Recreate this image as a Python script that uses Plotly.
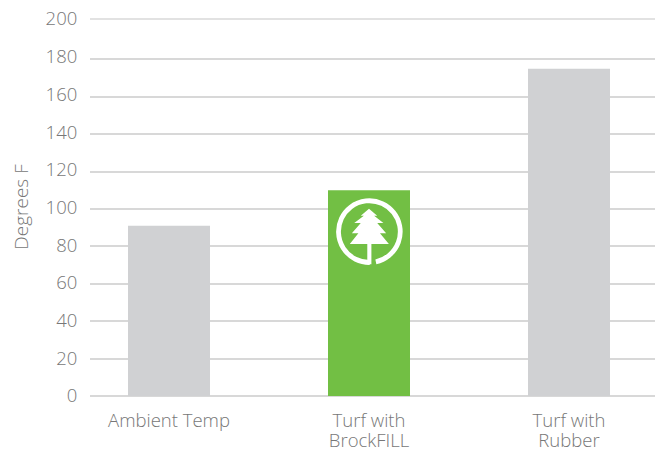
import base64
import plotly.graph_objects as go

categories = ["Ambient Temp", "Turf with<br>BrockFILL", "Turf with<br>Rubber"]
values = [91, 110, 175]
bar_colors = ["#d0d1d3", "#72bf44", "#d0d1d3"]
y_ticks = list(range(0, 201, 20))
grid_ticks = y_ticks[:-1]

TEXT = "#777777"
GRID = "#d8d8d8"
FONT = "'Open Sans', Lato, sans-serif"

svg = """<svg xmlns="http://www.w3.org/2000/svg" viewBox="0 0 210 210" width="210" height="210">
<g transform="translate(-43,-50)" fill="#ffffff">
<path d="M148,88 L172,109 L163,109 L190,130 L172,130 L198,160 L180,160 L206,191 L155,191 L155,250 L143,250 L143,191 L92,191 L117,160 L98,160 L124,130 L105,130 L133,109 L124,109 Z"/>
<path d="M168,243 A90,90 0 1 0 150,245" fill="none" stroke="#ffffff" stroke-width="14"/>
</g></svg>"""
logo = "data:image/svg+xml;base64," + base64.b64encode(svg.encode()).decode()

fig = go.Figure()
fig.add_trace(go.Bar(x=categories, y=values, marker=dict(color=bar_colors, line=dict(width=0)),
                     width=0.41, hoverinfo="skip", yaxis="y"))
# Carries the tick-label axis, whose spacing differs slightly from the gridlines in the reference.
fig.add_trace(go.Scatter(x=categories, y=[None, None, None], mode="lines", hoverinfo="skip", yaxis="y2"))

fig.add_layout_image(dict(source=logo, xref="x", yref="y", x=1, y=87.9, sizex=0.36, sizey=38.5,
                          xanchor="center", yanchor="middle", sizing="stretch", layer="above"))
fig.add_shape(type="line", xref="paper", yref="y2", x0=0, x1=1, y0=200, y1=200,
              line=dict(color=GRID, width=1.5), layer="below")

tick_font = dict(size=18.5, weight=300, family=FONT, color=TEXT)
fig.update_layout(
    width=662, height=451, autosize=False,
    margin=dict(l=90, r=7, t=18, b=55, autoexpand=False),
    paper_bgcolor="white", plot_bgcolor="white",
    showlegend=False,
    font=dict(family=FONT, color=TEXT, size=17),
    xaxis=dict(range=[-0.395, 2.43], tickmode="array", tickvals=categories, ticktext=categories,
               showgrid=False, showline=False, zeroline=False, ticks="outside", ticklen=8,
               tickcolor="rgba(0,0,0,0)", tickfont=tick_font),
    yaxis=dict(range=[0, 202.14], tickvals=grid_ticks, showgrid=True, gridcolor=GRID, gridwidth=1.5,
               zeroline=True, zerolinecolor=GRID, zerolinewidth=1.5, showline=False,
               ticks="", showticklabels=False),
    yaxis2=dict(range=[0, 200.53], tickvals=y_ticks, overlaying="y", side="left", anchor="x",
                showgrid=False, zeroline=False, showline=False,
                ticks="outside", ticklen=8, tickcolor="rgba(0,0,0,0)", tickfont=tick_font,
                title=dict(text="Degrees F", font=dict(size=19, weight=300, family=FONT, color=TEXT), standoff=11)),
)
post = ("document.body.style.margin='0';document.documentElement.style.overflow='hidden';"
        "document.querySelectorAll('.xtick tspan.line').forEach(function(t){"
        "if(parseFloat(t.getAttribute('dy'))>0){t.setAttribute('dy','1.08em');}});")
fig.write_html("out.html", config=dict(displayModeBar=False), post_script=post)
